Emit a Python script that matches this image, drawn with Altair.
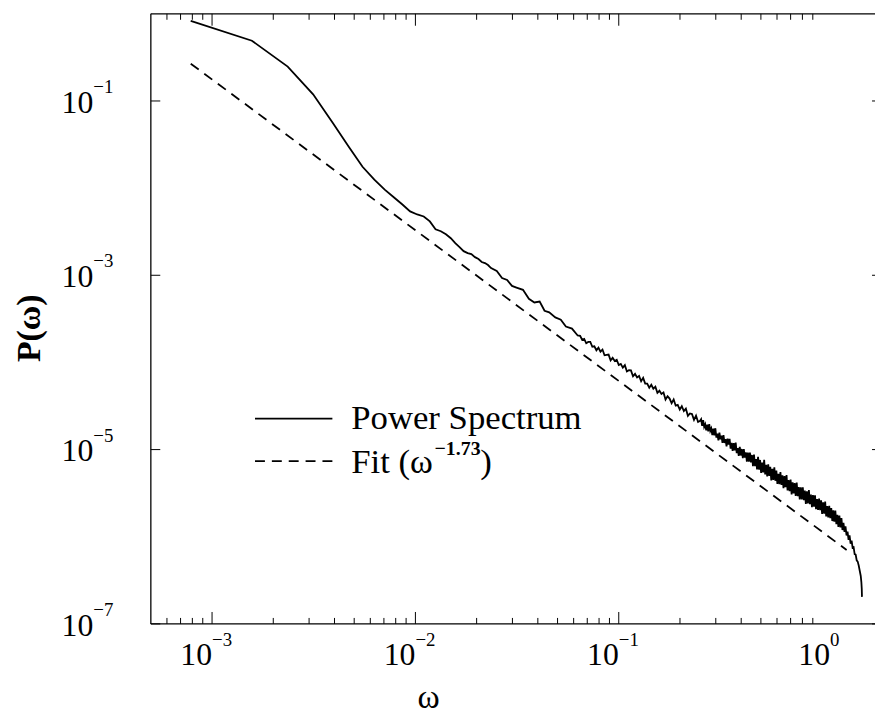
import altair as alt
import pandas as pd

FONT = "Liberation Serif"

# ---------------- data ----------------
# Power spectrum, stored as log10 values
spec_log_omega = [
    -3.105, -2.804, -2.628, -2.503, -2.406, -2.327, -2.260, -2.202, -2.151, -2.105,
    -2.064, -2.026, -1.991, -1.959, -1.929, -1.901,
    -1.875, -1.850, -1.826, -1.804, -1.783, -1.763, -1.743, -1.725, -1.707, -1.690,
    -1.674, -1.658, -1.643, -1.628, -1.600, -1.574, -1.549, -1.525, -1.503, -1.471,
    -1.442, -1.415, -1.389, -1.365, -1.342, -1.312, -1.285, -1.260, -1.230, -1.202,
    -1.19, -1.18, -1.17, -1.16, -1.15, -1.14, -1.13, -1.12, -1.11, -1.10,
    -1.09, -1.08, -1.07, -1.06, -1.05, -1.04, -1.03, -1.02, -1.01, -1.00,
    -0.99, -0.98, -0.97, -0.96, -0.95, -0.94, -0.93, -0.92, -0.91, -0.90,
    -0.89, -0.88, -0.87, -0.86, -0.85, -0.84, -0.83, -0.82, -0.81, -0.80,
    -0.79, -0.78, -0.77, -0.76, -0.75, -0.74, -0.73, -0.72, -0.71, -0.70,
    -0.69, -0.68, -0.67, -0.66, -0.65, -0.64, -0.63, -0.62, -0.61, -0.60,
    -0.595, -0.590, -0.585, -0.580, -0.575, -0.570, -0.565, -0.560, -0.555, -0.550,
    -0.545, -0.540, -0.535, -0.530, -0.525, -0.520, -0.515, -0.510, -0.505, -0.500,
    -0.495, -0.490, -0.485, -0.480, -0.475, -0.470, -0.465, -0.460, -0.455, -0.450,
    -0.445, -0.440, -0.435, -0.430, -0.425, -0.420, -0.415, -0.410, -0.405, -0.400,
    -0.395, -0.390, -0.385, -0.380, -0.375, -0.370, -0.365, -0.360, -0.355, -0.350,
    -0.345, -0.340, -0.335, -0.330, -0.325, -0.320, -0.315, -0.310, -0.305, -0.300,
    -0.295, -0.290, -0.285, -0.280, -0.275, -0.270, -0.265, -0.260, -0.255, -0.250,
    -0.245, -0.240, -0.235, -0.230, -0.225, -0.220, -0.215, -0.210, -0.205, -0.200,
    -0.195, -0.190, -0.185, -0.180, -0.175, -0.170, -0.165, -0.160, -0.155, -0.150,
    -0.145, -0.140, -0.135, -0.130, -0.125, -0.120, -0.115, -0.110, -0.105, -0.100,
    -0.095, -0.090, -0.085, -0.080, -0.075, -0.070, -0.065, -0.060, -0.055, -0.050,
    -0.045, -0.040, -0.035, -0.030, -0.025, -0.020, -0.015, -0.010, -0.005, 0.000,
    0.005, 0.010, 0.015, 0.020, 0.025, 0.030, 0.035, 0.040, 0.045, 0.050,
    0.055, 0.060, 0.065, 0.070, 0.075, 0.080, 0.085, 0.090, 0.095, 0.100,
    0.105, 0.110, 0.115, 0.120, 0.125, 0.130, 0.135, 0.140, 0.145, 0.150,
    0.155, 0.160, 0.165, 0.170, 0.175, 0.180, 0.185, 0.190,
    0.193, 0.195, 0.196,
]
spec_log_power = [
    -0.081, -0.309, -0.605, -0.924, -1.254, -1.527, -1.755, -1.903, -2.017, -2.108,
    -2.188, -2.267, -2.302, -2.325, -2.382, -2.473,
    -2.495, -2.530, -2.575, -2.632, -2.677, -2.723, -2.746, -2.757, -2.792, -2.814,
    -2.848, -2.860, -2.882, -2.917, -2.951, -3.031, -3.054, -3.122, -3.141, -3.167,
    -3.270, -3.312, -3.301, -3.407, -3.426, -3.483, -3.509, -3.589, -3.612, -3.691,
    -3.695, -3.740, -3.730, -3.780, -3.765, -3.765, -3.820, -3.815, -3.860, -3.830,
    -3.876, -3.852, -3.918, -3.914, -3.910, -3.976, -3.947, -3.983, -3.969, -4.030,
    -4.017, -4.059, -4.031, -4.103, -4.090, -4.092, -4.159, -4.131, -4.173, -4.155,
    -4.216, -4.177, -4.243, -4.244, -4.290, -4.256, -4.302, -4.278, -4.349, -4.325,
    -4.362, -4.344, -4.426, -4.388, -4.415, -4.467, -4.424, -4.496, -4.488, -4.540,
    -4.502, -4.559, -4.531, -4.613, -4.585, -4.592, -4.659, -4.611, -4.683, -4.670,
    -4.652, -4.728, -4.662, -4.739, -4.710, -4.779, -4.713, -4.790, -4.709, -4.785,
    -4.757, -4.833, -4.760, -4.836, -4.755, -4.862, -4.818, -4.895, -4.806, -4.883,
    -4.839, -4.922, -4.834, -4.924, -4.881, -4.964, -4.875, -4.943, -4.877, -4.990,
    -4.924, -5.015, -4.926, -5.009, -4.921, -5.041, -4.983, -5.073, -4.970, -5.068,
    -4.993, -5.099, -4.994, -5.092, -5.033, -5.138, -5.034, -5.139, -5.035, -5.148,
    -5.062, -5.189, -5.057, -5.191, -5.108, -5.228, -5.082, -5.230, -5.119, -5.267,
    -5.149, -5.262, -5.116, -5.285, -5.174, -5.308, -5.169, -5.303, -5.199, -5.354,
    -5.222, -5.349, -5.203, -5.358, -5.240, -5.395, -5.277, -5.397, -5.258, -5.406,
    -5.295, -5.443, -5.304, -5.431, -5.292, -5.468, -5.350, -5.477, -5.345, -5.514,
    -5.375, -5.502, -5.384, -5.532, -5.379, -5.534, -5.430, -5.571, -5.432, -5.573,
    -5.434, -5.581, -5.470, -5.624, -5.478, -5.618, -5.465, -5.626, -5.515, -5.662,
    -5.523, -5.656, -5.524, -5.685, -5.567, -5.693, -5.561, -5.694, -5.583, -5.737,
    -5.606, -5.734, -5.596, -5.766, -5.649, -5.777, -5.646, -5.788, -5.671, -5.820,
    -5.698, -5.828, -5.699, -5.857, -5.749, -5.886, -5.757, -5.894, -5.786, -5.923,
    -5.842, -5.945, -5.882, -5.985, -5.940, -6.035, -5.985, -6.080, -6.045, -6.125,
    -6.120, -6.200, -6.205, -6.270, -6.285, -6.330, -6.390, -6.450,
    -6.520, -6.600, -6.690,
]

# Power-law fit line (omega^-1.73), its two visible end points
fit_omega = [7.854e-4, 1.32]
fit_power = [0.268, 7.06e-7]

# Tick marks and labels
x_major_ticks = [1e-3, 1e-2, 1e-1]
x_minor_ticks = [6e-4, 7e-4, 8e-4, 9e-4,
                 2e-3, 3e-3, 4e-3, 5e-3, 6e-3, 7e-3, 8e-3, 9e-3,
                 2e-2, 3e-2, 4e-2, 5e-2, 6e-2, 7e-2, 8e-2, 9e-2,
                 2e-1, 3e-1, 4e-1, 5e-1, 6e-1, 7e-1, 8e-1, 9e-1]
x_label_values = [1e-3, 1e-2, 1e-1]
x_label_exps = ["\u22123", "\u22122", "\u22121"]
x_last_label_value = [1e0]
x_last_label_exp = ["0"]
y_label_values = [1e-1, 1e-3, 1e-5, 1e-7]
y_label_exps = ["\u22121", "\u22123", "\u22125", "\u22127"]

legend_labels = ["Power Spectrum", "Fit (\u03c9"]
fit_exponent_label = "\u22121.73"
x_title = "\u03c9"
y_title = "P(\u03c9)"

# ---------------- chart ----------------
W, H = 730, 615
xs = alt.Scale(type="log", domain=[5e-4, 1.82], nice=False)
ys = alt.Scale(type="log", domain=[1e-7, 1.0], nice=False)

spec_df = pd.DataFrame({"w": [10 ** v for v in spec_log_omega],
                        "p": [10 ** v for v in spec_log_power]})
fit_df = pd.DataFrame({"w": fit_omega, "p": fit_power})
one = pd.DataFrame({"a": [0]})

X = lambda: alt.X("w:Q", scale=xs, axis=None)
Y = lambda: alt.Y("p:Q", scale=ys, axis=None)

spectrum = alt.Chart(spec_df).mark_line(color="black", strokeWidth=1.8).encode(x=X(), y=Y())
fit = alt.Chart(fit_df).mark_line(color="black", strokeWidth=1.8, strokeDash=[10, 7]).encode(x=X(), y=Y())

rule = dict(color="black", strokeWidth=1.3)
frame_top = alt.Chart(one).mark_rule(**rule).encode(x=alt.value(0), x2=alt.value(W), y=alt.value(0))
frame_bottom = alt.Chart(one).mark_rule(**rule).encode(x=alt.value(0), x2=alt.value(W), y=alt.value(H))
frame_left = alt.Chart(one).mark_rule(**rule).encode(x=alt.value(0), y=alt.value(0), y2=alt.value(H))

xmaj = pd.DataFrame({"w": x_major_ticks})
xmin = pd.DataFrame({"w": x_minor_ticks})
tick = dict(color="black", strokeWidth=1)
xt_bot_maj = alt.Chart(xmaj).mark_rule(**tick).encode(x=X(), y=alt.value(H), y2=alt.value(H - 12))
xt_top_maj = alt.Chart(xmaj).mark_rule(**tick).encode(x=X(), y=alt.value(0), y2=alt.value(12))
xt_bot_min = alt.Chart(xmin).mark_rule(**tick).encode(x=X(), y=alt.value(H), y2=alt.value(H - 6))
xt_top_min = alt.Chart(xmin).mark_rule(**tick).encode(x=X(), y=alt.value(0), y2=alt.value(6))

ymaj = pd.DataFrame({"p": y_label_values})
yt_left = alt.Chart(ymaj).mark_rule(**tick).encode(y=Y(), x=alt.value(0), x2=alt.value(9.5))
yt_right = alt.Chart(ymaj).mark_rule(**tick).encode(y=Y(), x=alt.value(W - 3), x2=alt.value(W))

xl_df = pd.DataFrame({"w": x_label_values, "e": x_label_exps})
xl_last_df = pd.DataFrame({"w": x_last_label_value, "e": x_last_label_exp})
yl_df = pd.DataFrame({"p": y_label_values, "e": y_label_exps})


def x_labels(df, shift):
    base = alt.Chart(df).mark_text(font=FONT, fontSize=32, align="right", baseline="alphabetic", dx=shift,
                                   color="black").encode(x=X(), y=alt.value(H + 41), text=alt.value("10"))
    exp = alt.Chart(df).mark_text(font=FONT, fontSize=19, align="left", baseline="alphabetic", dx=shift,
                                  color="black").encode(x=X(), y=alt.value(H + 22), text="e:N")
    return [base, exp]


xl_layers = x_labels(xl_df, 0) + x_labels(xl_last_df, 8)

yl_base = alt.Chart(yl_df).mark_text(font=FONT, fontSize=32, align="right", baseline="alphabetic", dy=12,
                                     color="black").encode(y=Y(), x=alt.value(-58), text=alt.value("10"))
yl_exp = alt.Chart(yl_df).mark_text(font=FONT, fontSize=19, align="left", baseline="alphabetic", dy=-8,
                                    color="black").encode(y=Y(), x=alt.value(-58), text="e:N")

ytitle = alt.Chart(one).mark_text(font=FONT, fontSize=34, fontWeight="bold", angle=270, align="center",
                                  baseline="middle", color="black").encode(
    x=alt.value(-122), y=alt.value(317), text=alt.value(y_title))
xtitle = alt.Chart(one).mark_text(font=FONT, fontSize=34, align="center", baseline="alphabetic",
                                  color="black").encode(x=alt.value(280), y=alt.value(700), text=alt.value(x_title))

# legend
leg_solid = alt.Chart(one).mark_rule(color="black", strokeWidth=1.8).encode(
    x=alt.value(105), x2=alt.value(183), y=alt.value(408))
leg_dash = alt.Chart(one).mark_rule(color="black", strokeWidth=1.8, strokeDash=[10, 7]).encode(
    x=alt.value(105), x2=alt.value(183), y=alt.value(451))
leg_t1 = alt.Chart(one).mark_text(font=FONT, fontSize=35, align="left", baseline="alphabetic", color="black").encode(
    x=alt.value(202), y=alt.value(419), text=alt.value(legend_labels[0]))
leg_t2 = alt.Chart(one).mark_text(font=FONT, fontSize=35, align="left", baseline="alphabetic", color="black").encode(
    x=alt.value(202), y=alt.value(463), text=alt.value(legend_labels[1]))
leg_t2e = alt.Chart(one).mark_text(font=FONT, fontSize=20, fontWeight="bold", align="left", baseline="alphabetic",
                                   color="black").encode(x=alt.value(286), y=alt.value(445),
                                                         text=alt.value(fit_exponent_label))
leg_t2p = alt.Chart(one).mark_text(font=FONT, fontSize=35, align="left", baseline="alphabetic", color="black").encode(
    x=alt.value(332), y=alt.value(463), text=alt.value(")"))

chart = alt.layer(
    frame_top, frame_bottom, frame_left,
    xt_bot_maj, xt_top_maj, xt_bot_min, xt_top_min, yt_left, yt_right,
    fit, spectrum,
    *xl_layers, yl_base, yl_exp, ytitle, xtitle,
    leg_solid, leg_dash, leg_t1, leg_t2, leg_t2e, leg_t2p,
).properties(
    width=W, height=H,
    autosize=alt.AutoSizeParams(type="none"),
    padding={"left": 144, "top": 3, "right": 0, "bottom": 92},
    background="white",
).configure_view(stroke=None)

chart.save("out.html", embed_options={"renderer": "svg", "actions": False})
